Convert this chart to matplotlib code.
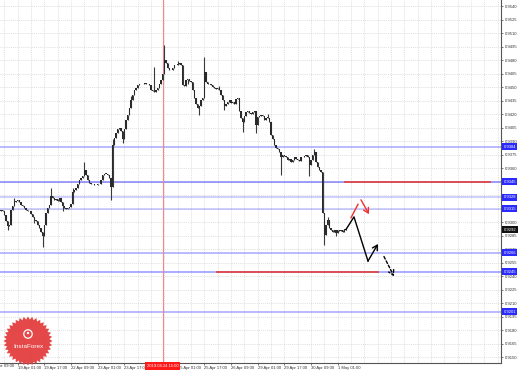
import matplotlib
matplotlib.use('Agg')
from matplotlib import pyplot as plt
from matplotlib import transforms as mtrans
from matplotlib.patches import Polygon, Circle
import numpy as np

plt.rcParams['font.family'] = ['Liberation Sans', 'DejaVu Sans']

# hourly closes, bar 0 .. 207
closes = [
    0.9314, 0.9312, 0.9308, 0.9301, 0.9296, 0.9297, 0.9314, 0.9318, 0.9323, 0.9324,
    0.9325, 0.9322, 0.9319, 0.9318, 0.9316, 0.9314, 0.9312, 0.9313, 0.9309, 0.9306,
    0.9303, 0.9301, 0.9297, 0.9294, 0.9289, 0.9285, 0.9297, 0.9310, 0.9316, 0.9319,
    0.9329, 0.9327, 0.9325, 0.9326, 0.9324, 0.9327, 0.9322, 0.9318, 0.9316, 0.9315,
    0.9316, 0.9317, 0.9320, 0.9334, 0.9336, 0.9338, 0.9343, 0.9347, 0.9349, 0.9351,
    0.9358, 0.9352, 0.9347, 0.9344, 0.9342, 0.9342, 0.9341, 0.9341, 0.9342, 0.9343,
    0.9347, 0.9352, 0.9354, 0.9354, 0.9352, 0.9349, 0.9339, 0.9386, 0.9394, 0.9399,
    0.9403, 0.9405, 0.9401, 0.9392, 0.9403, 0.9414, 0.9419, 0.9427, 0.9436, 0.9441,
    0.9447, 0.9449, 0.9452, 0.9453, 0.9453, 0.9454, 0.9455, 0.9453, 0.9454, 0.9452,
    0.9447, 0.9446, 0.9445, 0.9447, 0.9449, 0.9453, 0.9458, 0.9464, 0.9480, 0.9477,
    0.9471, 0.9469, 0.9469, 0.9471, 0.9474, 0.9475, 0.9476, 0.9477, 0.9474, 0.9452,
    0.9451, 0.9458, 0.9459, 0.9457, 0.9456, 0.9447, 0.9438, 0.9431, 0.9427, 0.9429,
    0.9436, 0.9438, 0.9467, 0.9456, 0.9454, 0.9453, 0.9452, 0.9450, 0.9449, 0.9448,
    0.9449, 0.9447, 0.9441, 0.9436, 0.9429, 0.9431, 0.9434, 0.9436, 0.9432, 0.9434,
    0.9431, 0.9437, 0.9438, 0.9424, 0.9416, 0.9411, 0.9418, 0.9422, 0.9423, 0.9421,
    0.9420, 0.9422, 0.9423, 0.9408, 0.9417, 0.9418, 0.9419, 0.9418, 0.9414, 0.9416,
    0.9416, 0.9411, 0.9397, 0.9392, 0.9386, 0.9383, 0.9381, 0.9378, 0.9372, 0.9375,
    0.9374, 0.9372, 0.9369, 0.9370, 0.9367, 0.9369, 0.9372, 0.9370, 0.9369, 0.9368,
    0.9372, 0.9373, 0.9374, 0.9375, 0.9373, 0.9364, 0.9369, 0.9375, 0.9378, 0.9367,
    0.9361, 0.9358, 0.9356, 0.9310, 0.9286, 0.9297, 0.9303, 0.9294, 0.9292, 0.9289,
    0.9292, 0.9288, 0.9291, 0.9290, 0.9292, 0.9289, 0.9293, 0.9292,
]
first_open = 0.9312
spike_highs = {8: 0.9327, 30: 0.9338, 43: 0.9338, 50: 0.9367, 67: 0.9392, 78: 0.9440,
               92: 0.9472, 98: 0.9497, 106: 0.9479, 122: 0.9483, 131: 0.9451,
               160: 0.9420, 188: 0.9381, 196: 0.9306}
spike_lows = {4: 0.9292, 20: 0.9299, 25: 0.9273, 37: 0.9313, 66: 0.9325, 73: 0.9388,
              112: 0.9453, 119: 0.9419, 134: 0.9425, 145: 0.9400, 153: 0.9399,
              168: 0.9353, 185: 0.9351, 194: 0.9275, 201: 0.9285}

level_prices = [0.9384, 0.9345, 0.9328, 0.9315, 0.9266, 0.9245, 0.9201]
level_labels = ['0.9384', '0.9345', '0.9328', '0.9315', '0.9266', '0.9245', '0.9201']
level_alpha = [0.5, 0.7, 0.35, 0.35, 0.5, 0.6, 0.5]
current_price = 0.9292

y_ticks = [0.9150, 0.9165, 0.9180, 0.9195, 0.9210, 0.9225, 0.9240, 0.9255, 0.9270,
           0.9285, 0.9300, 0.9315, 0.9330, 0.9345, 0.9360, 0.9375, 0.9390, 0.9405,
           0.9420, 0.9435, 0.9450, 0.9465, 0.9480, 0.9495, 0.9510, 0.9525, 0.9540]
x_tick_bars = [10, 26, 42, 58, 74, 106, 122, 138, 154, 170, 186, 202]
x_tick_labels = ['19 Apr 01:00', '19 Apr 17:00', '22 Apr 09:00', '23 Apr 01:00',
                 '23 Apr 17:00', '25 Apr 01:00', '25 Apr 17:00', '26 Apr 09:00',
                 '29 Apr 01:00', '29 Apr 17:00', '30 Apr 09:00', '1 May 01:00']
cursor_bar = 97
cursor_label = '2019.04.24 15:00'

# forecast drawing
black_path_x = [207, 211.8, 220.2]
black_path_y = [0.9292, 0.9306, 0.9257]
black_arrow_end = (226.2, 0.9276)
red_line_x = [210, 214.2]
red_line_y = [0.9305, 0.9320]
red_arrow = ((216, 0.9325), (220.8, 0.9309))
dash_arrow = ((229.8, 0.9262), (235.8, 0.9240))
red_levels = [(0.9345, 205.8, 294), (0.9245, 129, 226.8)]

fig = plt.figure(figsize=(5.18, 3.71), dpi=100)
ax = fig.add_axes([0, 0.0224, 0.9681, 0.9776])
ax.set_xlim(-0.6, 300.3)
ax.set_ylim(0.914424, 0.954666)

# grid
for b in range(2, 300, 8):
    ax.axvline(b, color='#d4d4d4', lw=0.5, ls=(0, (1.5, 1.5)), zorder=0)
for yv in y_ticks:
    ax.axhline(yv, color='#d4d4d4', lw=0.5, ls=(0, (1.5, 1.5)), zorder=0)

# levels
for p, a in zip(level_prices, level_alpha):
    ax.axhline(p, color='#5050ff', lw=1.1, alpha=a, zorder=1)
for p, x0, x1 in red_levels:
    ax.plot([x0, x1], [p, p], color='#e04848', lw=1.3, zorder=2, solid_capstyle='butt')

ax.axvline(cursor_bar, color='#f08a8a', lw=0.8, zorder=1)

# candles
opens = [first_open] + closes[:-1]
for i, (o, c) in enumerate(zip(opens, closes)):
    hi = max(o, c, spike_highs.get(i, 0))
    lo = min(o, c, spike_lows.get(i, 9))
    ax.vlines(i, lo, hi, color='#3a3a3a', lw=0.8, zorder=3)
    ax.bar(i, max(abs(c - o), 0.00004), bottom=min(o, c), width=0.95,
           color='#2a2a2a', lw=0, zorder=3)

# forecast arrows
ax.plot(black_path_x, black_path_y, color='black', lw=1.0, zorder=4)
ax.annotate('', xy=black_arrow_end, xytext=(black_path_x[-1], black_path_y[-1]),
            arrowprops=dict(arrowstyle='->,head_length=0.35,head_width=0.2',
                            color='black', lw=1.0, shrinkA=0, shrinkB=0), zorder=4)
ax.plot(red_line_x, red_line_y, color='#f03030', lw=1.0, zorder=4)
ax.annotate('', xy=red_arrow[1], xytext=red_arrow[0],
            arrowprops=dict(arrowstyle='->,head_length=0.35,head_width=0.2',
                            color='#f03030', lw=1.0, shrinkA=0, shrinkB=0), zorder=4)
ax.annotate('', xy=dash_arrow[1], xytext=dash_arrow[0],
            arrowprops=dict(arrowstyle='->,head_length=0.35,head_width=0.2',
                            color='black', lw=1.0, ls=(0, (2, 1.5)),
                            shrinkA=0, shrinkB=0), zorder=4)

# axes look
for s in ['left', 'top']:
    ax.spines[s].set_visible(False)
for s in ['right', 'bottom']:
    ax.spines[s].set_color('#555555')
    ax.spines[s].set_linewidth(0.8)
ax.yaxis.tick_right()
ax.set_yticks(y_ticks)
ax.set_yticklabels(['%.4f' % v for v in y_ticks])
ax.set_xticks(x_tick_bars)
ax.set_xticklabels(x_tick_labels)
for t in ax.get_xticklabels():
    t.set_horizontalalignment('left')
ax.tick_params(axis='both', labelsize=3, length=1.5, width=0.5, pad=0.8,
               colors='#444444', labelcolor='#333333')

xt = mtrans.blended_transform_factory(ax.transData, ax.transAxes)
ax.text(-6, -0.004, '18 Apr 09:00', transform=xt,
        fontsize=3, color='#333333', ha='left', va='top', clip_on=False)

yt = mtrans.blended_transform_factory(ax.transAxes, ax.transData)
for p, lab in zip(level_prices, level_labels):
    ax.text(1.004, p, lab, transform=yt, fontsize=3, color='white', ha='left', va='center',
            bbox=dict(boxstyle='square,pad=0.35', fc='#2a2aff', ec='none'), clip_on=False, zorder=6)
ax.text(1.004, current_price, '%.4f' % current_price, transform=yt, fontsize=3, color='white',
        ha='left', va='center', bbox=dict(boxstyle='square,pad=0.35', fc='#111111', ec='none'),
        clip_on=False, zorder=6)

ax.text(cursor_bar, -0.004, cursor_label, transform=xt, fontsize=3, color='white', ha='center',
        va='top', bbox=dict(boxstyle='square,pad=0.4', fc='#ff1a1a', ec='none'),
        clip_on=False, zorder=6)

# logo
lg = fig.add_axes([0, 0, 1, 1], zorder=10)
lg.set_xlim(0, 518)
lg.set_ylim(371, 0)
lg.axis('off')
ang = np.linspace(0, 2 * np.pi, 72, endpoint=False)
rad = np.where(np.arange(72) % 2 == 0, 24.5, 21.5)
pts = np.column_stack([28 + rad * np.cos(ang), 341 + rad * np.sin(ang)])
lg.add_patch(Polygon(pts, closed=True, fc='#e23a3a', ec='none', alpha=0.93))
lg.add_patch(Circle((28, 334), 4.2, fc='none', ec='white', lw=0.9))
lg.add_patch(Circle((28, 333), 1.2, fc='white', ec='none'))
lg.text(28, 347, 'InstaForex', color='white', fontsize=4.6, ha='center', va='center')

fig.savefig('out.png', dpi=100)
